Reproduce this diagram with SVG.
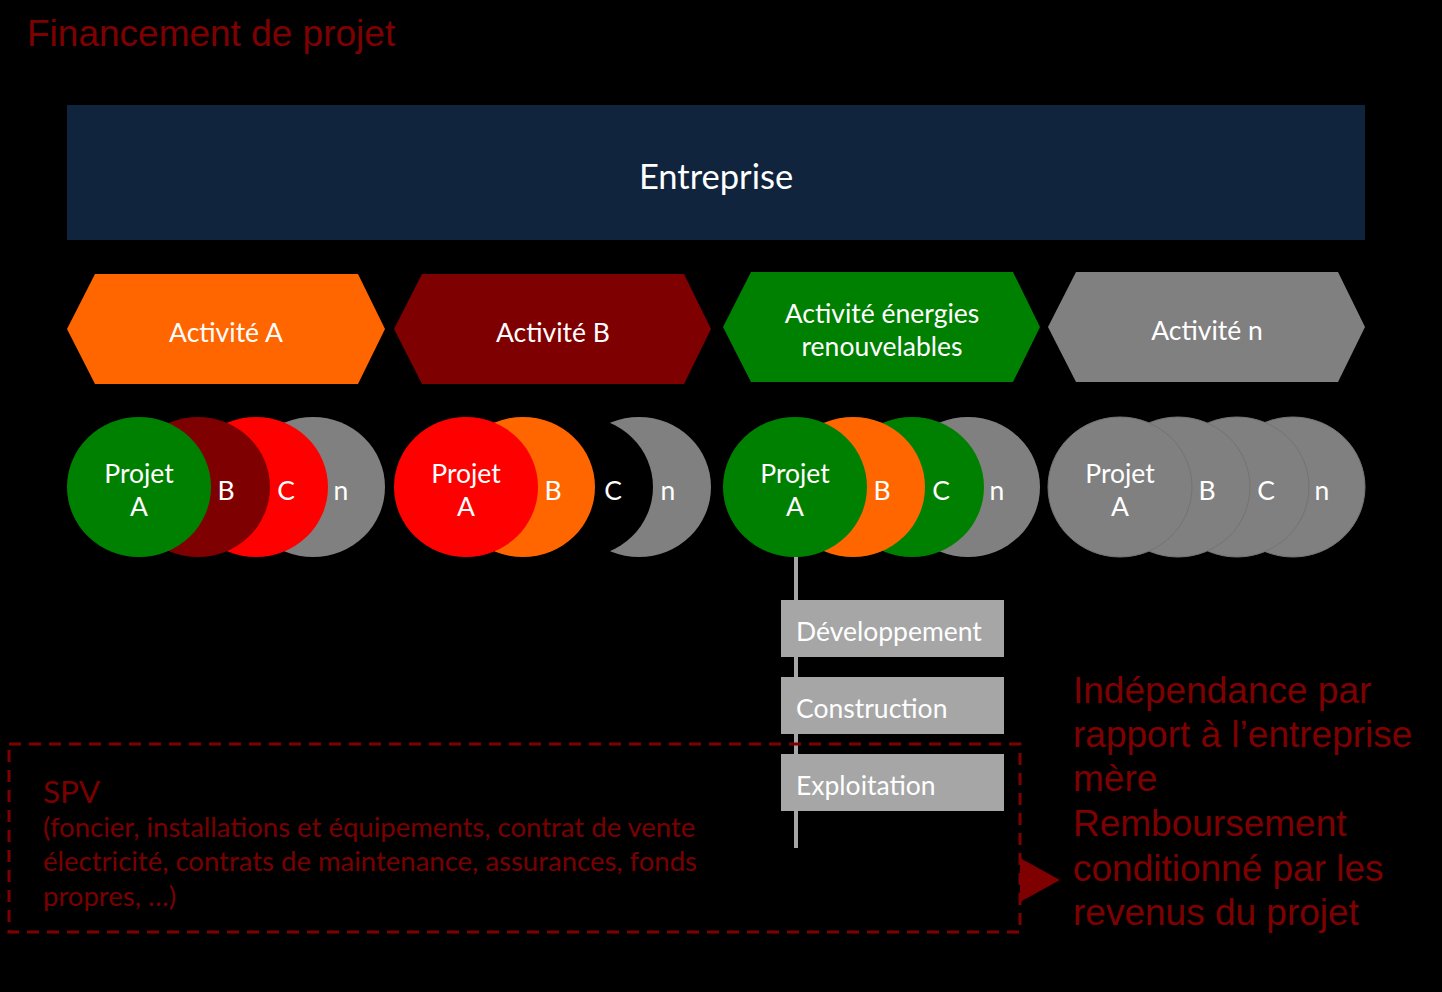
<svg xmlns="http://www.w3.org/2000/svg" width="1442" height="992" viewBox="0 0 1442 992">
<style>
.w{fill:#ffffff;font-family:Lato,"Open Sans",sans-serif;font-size:26.5px}
.c{text-anchor:middle}
.dr{fill:#7f0000;font-family:"Liberation Sans",Arial,sans-serif;font-size:37px}
.spv{fill:#7a0000;font-family:Lato,"Open Sans",sans-serif;font-size:27.5px}
.box{fill:#a6a6a6}
</style>
<rect x="0" y="0" width="1442" height="992" fill="#000000"/>
<text id="title" class="dr" x="27" y="46">Financement de projet</text>
<g id="entreprise">
<rect x="67" y="105" width="1298" height="135" fill="#10243e"/>
<text class="w c" x="716" y="189" style="font-size:34.5px">Entreprise</text>
</g>
<g id="activite-a">
<polygon points="67,329 95,274 358,274 385,329 358,384 95,384" fill="#ff6600"/>
<text class="w c" x="226" y="342">Activité A</text>
</g>
<g id="activite-b">
<polygon points="394,329 422,274 684,274 711,329 684,384 422,384" fill="#7f0000"/>
<text class="w c" x="553" y="342">Activité B</text>
</g>
<g id="activite-er">
<polygon points="723,327 751,272 1013,272 1040,327 1013,382 751,382" fill="#008000"/>
<text class="w c" x="882" y="323">Activité énergies</text>
<text class="w c" x="882" y="356">renouvelables</text>
</g>
<g id="activite-n">
<polygon points="1048,327 1076,272 1338,272 1365,327 1338,382 1076,382" fill="#808080"/>
<text class="w c" x="1207" y="340">Activité n</text>
</g>
<g id="projets-a">
<ellipse cx="313" cy="487" rx="72" ry="70" fill="#808080"/>
<ellipse cx="256" cy="487" rx="72" ry="70" fill="#ff0000"/>
<ellipse cx="198" cy="487" rx="72" ry="70" fill="#7f0000"/>
<ellipse cx="139" cy="487" rx="72" ry="70" fill="#008000"/>
<text class="w c" x="139" y="483">Projet</text>
<text class="w c" x="139" y="516">A</text>
<text class="w c" x="226" y="500">B</text>
<text class="w c" x="286" y="500">C</text>
<text class="w c" x="341" y="500">n</text>
</g>
<g id="projets-b">
<ellipse cx="639" cy="487" rx="72" ry="70" fill="#808080"/>
<ellipse cx="581" cy="487" rx="72" ry="70" fill="#000000"/>
<ellipse cx="523" cy="487" rx="72" ry="70" fill="#ff6600"/>
<ellipse cx="466" cy="487" rx="72" ry="70" fill="#ff0000"/>
<text class="w c" x="466" y="483">Projet</text>
<text class="w c" x="466" y="516">A</text>
<text class="w c" x="553" y="500">B</text>
<text class="w c" x="613" y="500">C</text>
<text class="w c" x="668" y="500">n</text>
</g>
<g id="projets-er">
<ellipse cx="968" cy="487" rx="72" ry="70" fill="#808080"/>
<ellipse cx="912" cy="487" rx="72" ry="70" fill="#008000"/>
<ellipse cx="853" cy="487" rx="72" ry="70" fill="#ff6600"/>
<ellipse cx="795" cy="487" rx="72" ry="70" fill="#008000"/>
<text class="w c" x="795" y="483">Projet</text>
<text class="w c" x="795" y="516">A</text>
<text class="w c" x="882" y="500">B</text>
<text class="w c" x="941" y="500">C</text>
<text class="w c" x="997" y="500">n</text>
</g>
<g id="projets-n">
<ellipse cx="1293" cy="487" rx="72" ry="70" fill="#808080" stroke="#737373" stroke-width="1"/>
<ellipse cx="1237" cy="487" rx="72" ry="70" fill="#808080" stroke="#737373" stroke-width="1"/>
<ellipse cx="1178" cy="487" rx="72" ry="70" fill="#808080" stroke="#737373" stroke-width="1"/>
<ellipse cx="1120" cy="487" rx="72" ry="70" fill="#808080" stroke="#737373" stroke-width="1"/>
<text class="w c" x="1120" y="483">Projet</text>
<text class="w c" x="1120" y="516">A</text>
<text class="w c" x="1207" y="500">B</text>
<text class="w c" x="1266" y="500">C</text>
<text class="w c" x="1322" y="500">n</text>
</g>
<g id="connectors">
<line x1="796" y1="557" x2="796" y2="848" stroke="#a6a6a6" stroke-width="4"/>
</g>
<g id="spv">
<rect x="9" y="744" width="1011" height="188" fill="none" stroke="#7f0000" stroke-width="3" stroke-dasharray="12,8"/>
<text class="spv" x="43" y="803" style="font-size:31.5px">SPV</text>
<text class="spv" x="43" y="837">(foncier, installations et équipements, contrat de vente</text>
<text class="spv" x="43" y="871">électricité, contrats de maintenance, assurances, fonds</text>
<text class="spv" x="43" y="906">propres, …)</text>
</g>
<g id="developpement">
<rect class="box" x="781" y="600" width="223" height="57"/>
<text class="w" x="796" y="641">Développement</text>
</g>
<g id="construction">
<rect class="box" x="781" y="677" width="223" height="57"/>
<text class="w" x="796" y="718">Construction</text>
</g>
<g id="exploitation">
<rect class="box" x="781" y="754" width="223" height="57"/>
<text class="w" x="796" y="795">Exploitation</text>
</g>
<g id="arrow">
<polygon points="1020,858 1060,880 1020,902" fill="#7f0000"/>
</g>
<g id="independance">
<text class="dr" x="1073" y="703">Indépendance par</text>
<text class="dr" x="1073" y="747">rapport à l’entreprise</text>
<text class="dr" x="1073" y="791">mère</text>
<text class="dr" x="1073" y="836">Remboursement</text>
<text class="dr" x="1073" y="881">conditionné par les</text>
<text class="dr" x="1073" y="925">revenus du projet</text>
</g>
</svg>
